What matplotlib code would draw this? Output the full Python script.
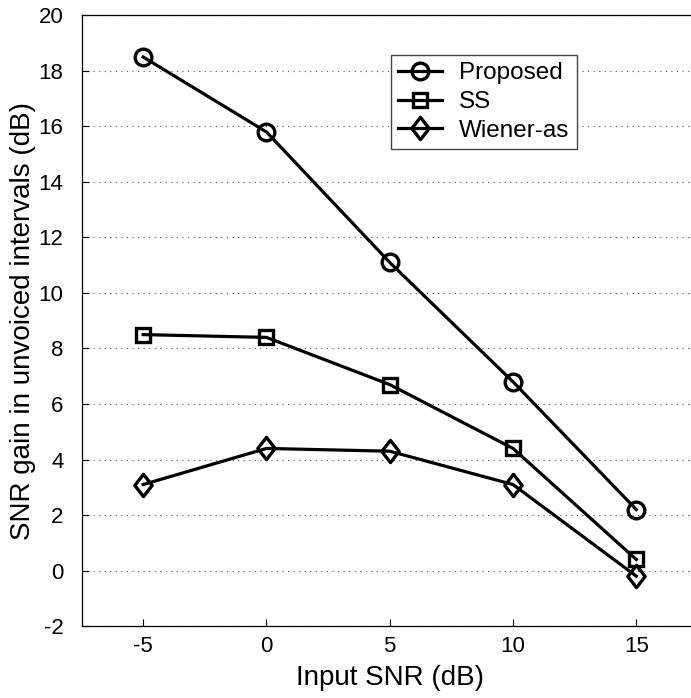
import matplotlib
matplotlib.use("Agg")
import matplotlib.pyplot as plt
from matplotlib.path import Path

snr_in = [-5, 0, 5, 10, 15]
proposed = [18.5, 15.8, 11.1, 6.8, 2.2]
ss = [8.5, 8.4, 6.7, 4.4, 0.4]
wiener = [3.1, 4.4, 4.3, 3.1, -0.2]
yticks = list(range(-2, 21, 2))

plt.rcParams["font.family"] = ["Liberation Sans", "DejaVu Sans"]
plt.rcParams["axes.unicode_minus"] = False

# matlab-style diamond (a bit narrower than tall)
diamond = Path([(0, 1), (0.78, 0), (0, -1), (-0.78, 0), (0, 1)],
               [Path.MOVETO, Path.LINETO, Path.LINETO, Path.LINETO, Path.CLOSEPOLY])

fig = plt.figure(figsize=(6.91, 6.98), dpi=100)
ax = fig.add_axes([0.118, 0.103, 0.892, 0.875])

# matlab markers are hollow: the line runs through them
style = dict(color="black", lw=2.3, mfc="none", mec="black", mew=2.4)
ax.plot(snr_in, proposed, marker="o", ms=12, label="Proposed", **style)
ax.plot(snr_in, ss, marker="s", ms=9.5, label="SS", **style)
ax.plot(snr_in, wiener, marker=diamond, ms=16, label="Wiener-as", **style)

ax.set_xlim(-7.5, 17.5)
ax.set_ylim(-2, 20)
ax.set_xticks(snr_in)
ax.set_yticks(yticks)
ax.yaxis.grid(True, linestyle=(0, (1, 4)), color="#555555", lw=0.8)
ax.tick_params(direction="in", labelsize=16, length=5, width=0.8)
ax.tick_params(axis="x", pad=7)
ax.tick_params(axis="y", pad=13)
for s in ax.spines.values():
    s.set_linewidth(0.9)

ax.set_xlabel("Input SNR (dB)", fontsize=20, labelpad=6)
ax.set_ylabel("SNR gain in unvoiced intervals (dB)", fontsize=20, labelpad=2)

leg = ax.legend(loc="upper left", bbox_to_anchor=(0.502, 0.935), fontsize=17.5,
                fancybox=False, framealpha=1, edgecolor="#444444", borderaxespad=0,
                handlelength=1.8, borderpad=0.3, labelspacing=0.28, handletextpad=0.7)
leg.get_frame().set_linewidth(1.0)

fig.savefig("out.png", dpi=100)
